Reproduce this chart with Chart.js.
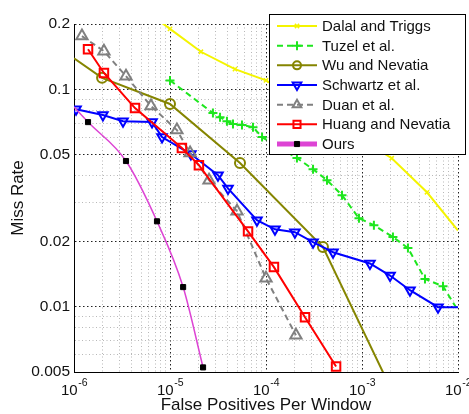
<!DOCTYPE html>
<html><head><meta charset="utf-8">
<script src="https://cdn.jsdelivr.net/npm/chart.js@4/dist/chart.umd.min.js"></script>
<style>html,body{margin:0;padding:0;background:#fff}canvas{display:block}</style>
</head><body>
<canvas id="c" width="469" height="414"></canvas>
<script>
// ---- data ----
const seriesLabels = ['Dalal and Triggs','Tuzel et al.','Wu and Nevatia','Schwartz et al.','Duan et al.','Huang and Nevatia','Ours'];

const dalalX = [6.2e-6, 1e-5, 2.1e-5, 4.75e-5, 1e-4, 2.04e-3, 4.75e-3, 1e-2];
const dalalY = [0.222, 0.19, 0.149, 0.124, 0.110, 0.0482, 0.0336, 0.0224];

const tuzelX = [1e-5, 2.8e-5, 3.32e-5, 3.92e-5, 4.53e-5, 5.62e-5, 7.32e-5, 9.1e-5, 2.1e-4, 3.09e-4, 4.32e-4, 6.19e-4, 9.3e-4, 1.33e-3, 2.1e-3, 3.01e-3, 4.53e-3, 6.98e-3, 1e-2];
const tuzelY = [0.110, 0.0778, 0.0745, 0.0714, 0.0692, 0.0685, 0.067, 0.0603, 0.0483, 0.0429, 0.0382, 0.0326, 0.0255, 0.0237, 0.0209, 0.0186, 0.0134, 0.0124, 0.0096];

const wuX = [1e-6, 1.96e-6, 1e-5, 5.36e-5, 3.92e-4, 1.82e-3];
const wuY = [0.139, 0.113, 0.0857, 0.0458, 0.0188, 0.00457];

const schwartzX = [1.05e-6, 2.0e-6, 3.24e-6, 6.5e-6, 8.26e-6, 1.65e-5, 3.16e-5, 4.02e-5, 8.05e-5, 1.24e-4, 2.0e-4, 3.09e-4, 4.99e-4, 1.21e-3, 1.96e-3, 3.16e-3, 6.19e-3, 1e-2];
const schwartzY = [0.0811, 0.0762, 0.0714, 0.0707, 0.0603, 0.0504, 0.0403, 0.035, 0.025, 0.0227, 0.022, 0.0198, 0.0178, 0.0158, 0.0139, 0.0119, 0.00994, 0.00994];

const duanX = [1.21e-6, 2.05e-6, 3.48e-6, 6.34e-6, 1.18e-5, 1.62e-5, 2.55e-5, 4.99e-5, 1e-4, 2.05e-4];
const duanY = [0.176, 0.150, 0.115, 0.0838, 0.065, 0.0509, 0.0382, 0.0275, 0.0135, 0.00738];

const huangX = [1.4e-6, 2.05e-6, 4.32e-6, 1.33e-5, 2.0e-5, 6.5e-5, 1.21e-4, 2.55e-4, 5.37e-4];
const huangY = [0.153, 0.119, 0.082, 0.0537, 0.0448, 0.0222, 0.0152, 0.00893, 0.0053];

const oursX = [1e-6, 1.4e-6, 3.48e-6, 7.32e-6, 1.37e-5, 2.21e-5];
const oursY = [0.083, 0.0707, 0.0468, 0.0247, 0.0123, 0.00525];

const xTickValues = [1e-6, 1e-5, 1e-4, 1e-3, 1e-2];
const xTickExponents = ['-6', '-5', '-4', '-3', '-2'];
const yTickLabels = [0.005, 0.01, 0.02, 0.05, 0.1, 0.2];

// ---- helpers ----
const pts = (xs, ys) => xs.map((x, i) => ({x, y: ys[i]}));
const FONT = '"Liberation Sans", Arial, Helvetica, sans-serif';

const xGridValues = [];
for (let e = -6; e < -2; e++) for (let m = 1; m <= 9; m++) xGridValues.push(+(m * Math.pow(10, e)).toPrecision(3));
xGridValues.push(1e-2);
const yGridValues = [0.005,0.006,0.007,0.008,0.009,0.01,0.02,0.03,0.04,0.05,0.06,0.07,0.08,0.09,0.1,0.2];

const isXMajor = v => v != null && Math.abs(Math.log10(v) - Math.round(Math.log10(v))) < 1e-6;
const isYMajor = v => v != null && yTickLabels.some(t => Math.abs(t - v) / t < 1e-6);

const hollow = 'rgba(255,255,255,0)';

const datasets = [
  {label: seriesLabels[0], data: pts(dalalX, dalalY), borderColor: '#f4f400', borderWidth: 2,
   pointStyle: 'crossRot', pointRadius: [0,3,3,3,3,3,3,0], pointBorderColor: '#f4f400', pointBackgroundColor: hollow, pointBorderWidth: 1.5, legendRadius: 3},
  {label: seriesLabels[1], data: pts(tuzelX, tuzelY), borderColor: '#1ee61e', borderWidth: 2, borderDash: [6, 4],
   pointStyle: 'cross', pointRadius: tuzelX.map((v, i) => i === tuzelX.length - 1 ? 0 : 4.5), pointBorderColor: '#1ee61e', pointBackgroundColor: hollow, pointBorderWidth: 2, legendRadius: 4.5},
  {label: seriesLabels[2], data: pts(wuX, wuY), borderColor: '#858500', borderWidth: 2,
   pointStyle: 'circle', pointRadius: [0,5,5,5,5,5], pointBorderColor: '#858500', pointBackgroundColor: hollow, pointBorderWidth: 2, legendRadius: 4},
  {label: seriesLabels[3], data: pts(schwartzX, schwartzY), borderColor: '#0000ff', borderWidth: 2,
   pointStyle: 'triangle', pointRotation: 180, pointRadius: schwartzX.map((v, i) => i === schwartzX.length - 1 ? 0 : 5.5), pointBorderColor: '#0000ff', pointBackgroundColor: hollow, pointBorderWidth: 2, legendRadius: 5},
  {label: seriesLabels[4], data: pts(duanX, duanY), borderColor: '#808080', borderWidth: 2, borderDash: [6, 4],
   pointStyle: 'triangle', pointRadius: 6.5, pointBorderColor: '#808080', pointBackgroundColor: hollow, pointBorderWidth: 2, legendRadius: 5},
  {label: seriesLabels[5], data: pts(huangX, huangY), borderColor: '#ff0000', borderWidth: 2,
   pointStyle: 'rect', pointRadius: 6, pointBorderColor: '#ff0000', pointBackgroundColor: hollow, pointBorderWidth: 2, legendRadius: 5},
  {label: seriesLabels[6], data: pts(oursX, oursY), borderColor: '#dd44d4', borderWidth: 1.5, cubicInterpolationMode: 'monotone',
   pointStyle: 'rect', pointRadius: [0,3.6,3.6,3.6,3.6,3.6], pointBorderColor: '#000', pointBackgroundColor: '#000', pointBorderWidth: 1, legendRadius: 3.6, legendLineWidth: 5}
];
datasets.forEach((d, i) => { d.order = -i; d.fill = false; d.tension = 0; });
datasets[6].tension = 0.4;

const legendPlugin = {
  id: 'boxLegend',
  afterDraw(chart) {
    const ctx = chart.ctx;
    const L = 269, T = 14, R = 466, B = 155;
    ctx.save();
    ctx.fillStyle = '#fff';
    ctx.fillRect(L, T, R - L, B - T);
    ctx.strokeStyle = '#000'; ctx.lineWidth = 1; ctx.setLineDash([]);
    ctx.strokeRect(L + 0.5, T + 0.5, R - L - 1, B - T - 1);
    chart.data.datasets.forEach((ds, i) => {
      const y = 26 + i * 19.67;
      ctx.setLineDash(ds.borderDash || []);
      ctx.strokeStyle = ds.borderColor; ctx.lineWidth = ds.legendLineWidth || ds.borderWidth;
      ctx.beginPath(); ctx.moveTo(277, y); ctx.lineTo(317, y); ctx.stroke();
      ctx.setLineDash([]);
      if (Chart.helpers && Chart.helpers.drawPoint) {
        ctx.fillStyle = ds.pointBackgroundColor; ctx.strokeStyle = ds.pointBorderColor; ctx.lineWidth = ds.pointBorderWidth;
        Chart.helpers.drawPoint(ctx, {pointStyle: ds.pointStyle, rotation: ds.pointRotation || 0, radius: ds.legendRadius, borderWidth: ds.pointBorderWidth}, 297, y);
      }
      ctx.fillStyle = '#111'; ctx.font = '15px ' + FONT; ctx.textBaseline = 'middle'; ctx.textAlign = 'left';
      ctx.fillText(ds.label, 322, y + 1);
    });
    ctx.restore();
  }
};

const xLabelPlugin = {
  id: 'xPowLabels',
  afterDraw(chart) {
    const ctx = chart.ctx, xs = chart.scales.x;
    ctx.save();
    ctx.fillStyle = '#111'; ctx.textBaseline = 'alphabetic'; ctx.textAlign = 'left';
    xTickValues.forEach((v, i) => {
      const px = xs.getPixelForValue(v);
      const base = '10', exp = xTickExponents[i];
      ctx.font = '15px ' + FONT; const wb = ctx.measureText(base).width;
      ctx.font = '10.5px ' + FONT; const we = ctx.measureText(exp).width;
      const x0 = px - (wb + we) / 2;
      ctx.font = '15px ' + FONT; ctx.fillText(base, x0, 395);
      ctx.font = '10.5px ' + FONT; ctx.fillText(exp, x0 + wb + 0.5, 386);
    });
    ctx.restore();
  }
};

Chart.defaults.font.family = FONT;
Chart.defaults.color = '#111';

new Chart(document.getElementById('c'), {
  type: 'line',
  data: {datasets},
  plugins: [legendPlugin, xLabelPlugin],
  options: {
    responsive: false, animation: false, devicePixelRatio: 1,
    layout: {padding: {top: 24, right: 11, left: 0, bottom: 0}},
    plugins: {legend: {display: false}, tooltip: {enabled: false}},
    scales: {
      x: {
        type: 'logarithmic', min: 1e-6, max: 1e-2,
        afterBuildTicks: s => { s.ticks = xGridValues.map(v => ({value: v})); },
        afterFit: s => { s.height = 42; },
        ticks: {display: false, autoSkip: false},
        grid: {color: c => isXMajor(c.tick && c.tick.value) ? '#222' : '#b8b8b8', lineWidth: 1, drawTicks: false},
        border: {display: true, color: '#000', width: 1,
                 dash: c => c.tick ? (isXMajor(c.tick.value) ? [1.5, 2.5] : [1, 2.5]) : []},
        title: {display: true, text: 'False Positives Per Window', color: '#111',
                font: {size: 17, lineHeight: 1}, padding: {top: 0, bottom: 0}}
      },
      y: {
        type: 'logarithmic', min: 0.005, max: 0.2,
        afterBuildTicks: s => { s.ticks = yGridValues.map(v => ({value: v})); },
        afterFit: s => { s.width = 74; },
        ticks: {autoSkip: false, padding: 4, font: {size: 15.5}, color: '#111',
                callback: v => isYMajor(v) ? String(v) : ''},
        grid: {color: c => isYMajor(c.tick && c.tick.value) ? '#222' : '#b8b8b8', lineWidth: 1, drawTicks: false},
        border: {display: true, color: '#000', width: 1,
                 dash: c => c.tick ? (isYMajor(c.tick.value) ? [1.5, 2.5] : [1, 2.5]) : []},
        title: {display: true, text: 'Miss Rate', color: '#111',
                font: {size: 17, lineHeight: 1}, padding: {top: 10, bottom: 0}}
      }
    }
  }
});
</script>
</body></html>
